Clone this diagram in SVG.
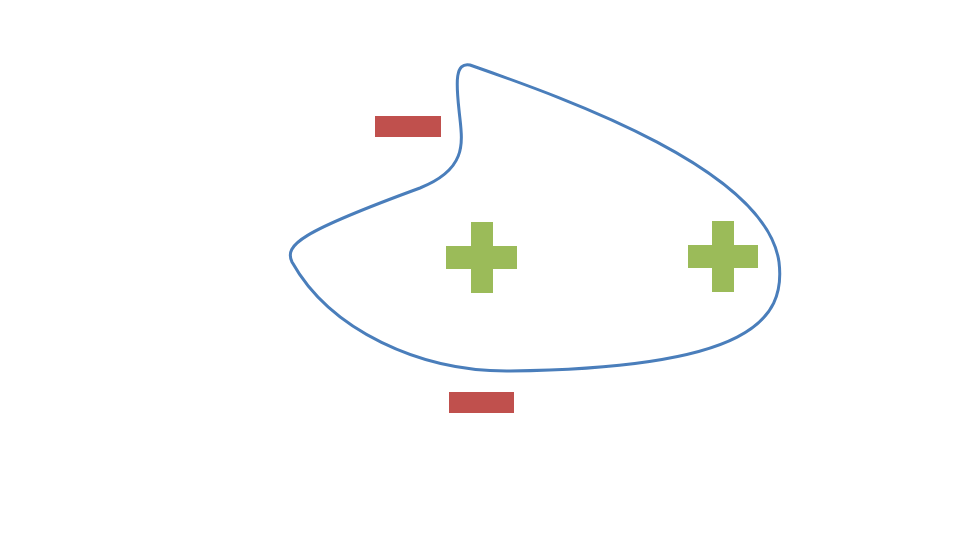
<svg xmlns="http://www.w3.org/2000/svg" width="960" height="540" viewBox="0 0 960 540">
<style>
.blob{fill:none;stroke:#4A7EBB;stroke-width:3}
.minus{fill:#C0504D}
.plus{fill:#9BBB59}
</style>
<rect width="960" height="540" fill="#fff"/>
<path class="blob" d="M 470,65 C 570,100 766,170 779,262 C 786,320 750,368 510,371 C 420,372 330,330 292,262 C 284,245 300,232 420,188 C 470,168 462,140 459,110 C 456,82 455,62 470,65 Z"/>
<g id="minus1"><rect class="minus" x="375" y="116" width="66" height="21"/></g>
<g id="minus2"><rect class="minus" x="449" y="392" width="65" height="21"/></g>
<g id="plus1"><rect class="plus" x="471" y="222" width="22" height="71"/><rect class="plus" x="446" y="246" width="71" height="23"/></g>
<g id="plus2"><rect class="plus" x="712" y="221" width="22" height="71"/><rect class="plus" x="688" y="245" width="70" height="23"/></g>
</svg>
